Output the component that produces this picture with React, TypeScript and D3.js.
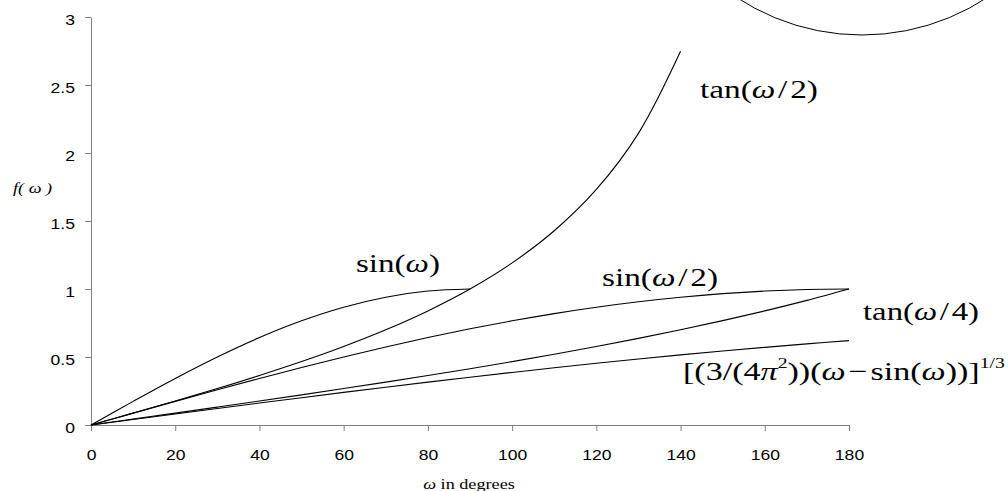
import React, { useEffect, useRef } from 'react';
import * as d3 from 'd3';

// angle samples in degrees
const omegaDeg = [0, 10, 20, 30, 40, 50, 60, 70, 80, 90, 100, 110, 120, 130, 140, 150, 160, 170, 180];

// curve values, one per sample
const sinW = [0, 0.1736, 0.342, 0.5, 0.6428, 0.766, 0.866, 0.9397, 0.9848, 1.0];
const tanHalfW = [0, 0.0875, 0.1763, 0.2679, 0.364, 0.4663, 0.5774, 0.7002, 0.8391, 1.0, 1.1918, 1.4281, 1.7321, 2.1445, 2.7475];
const sinHalfW = [0, 0.0872, 0.1737, 0.2588, 0.342, 0.4226, 0.5, 0.5736, 0.6428, 0.7071, 0.766, 0.8192, 0.866, 0.9063, 0.9397, 0.9659, 0.9848, 0.9962, 1.0];
const tanQuarterW = [0, 0.0437, 0.0875, 0.1317, 0.1763, 0.2217, 0.2679, 0.3153, 0.364, 0.4142, 0.4663, 0.5206, 0.5774, 0.6371, 0.7002, 0.7673, 0.8391, 0.9163, 1.0];
const cubeRootW = [0, 0.0407, 0.0812, 0.1215, 0.1614, 0.2009, 0.2397, 0.2778, 0.315, 0.3514, 0.3866, 0.4207, 0.4536, 0.4852, 0.5153, 0.544, 0.571, 0.5965, 0.6204];

const seriesList = [sinW, tanHalfW, sinHalfW, tanQuarterW, cubeRootW];

// tick labels
const xTicks = [0, 20, 40, 60, 80, 100, 120, 140, 160, 180];
const yTicks = [0, 0.5, 1, 1.5, 2, 2.5, 3];

type Part = { t: string; italic?: boolean; sup?: boolean };

// curve labels: pieces of text, left x, baseline y, drawn width
const curveLabels: { parts: Part[]; x: number; y: number; w: number }[] = [
  { parts: [{ t: 'tan(' }, { t: 'ω', italic: true }, { t: '\u200A/\u200A2)' }], x: 700, y: 98, w: 118 },
  { parts: [{ t: 'sin(' }, { t: 'ω', italic: true }, { t: ')' }], x: 356, y: 272, w: 84 },
  { parts: [{ t: 'sin(' }, { t: 'ω', italic: true }, { t: '\u200A/\u200A2)' }], x: 602, y: 286, w: 116 },
  { parts: [{ t: 'tan(' }, { t: 'ω', italic: true }, { t: '\u200A/\u200A4)' }], x: 863, y: 320, w: 116 },
  {
    parts: [
      { t: '[(3/(4' },
      { t: 'π', italic: true },
      { t: '2', sup: true },
      { t: '))(' },
      { t: 'ω', italic: true },
      { t: '\u200A−\u200Asin(' },
      { t: 'ω', italic: true },
      { t: '))]' },
      { t: '1/3', sup: true },
    ],
    x: 683,
    y: 380,
    w: 322,
  },
];

const App = () => {
  const ref = useRef<SVGSVGElement>(null);

  useEffect(() => {
    const svg = d3.select(ref.current);
    svg.selectAll('*').remove();

    const x = d3.scaleLinear().domain([0, 180]).range([91, 849]);
    const y = d3.scaleLinear().domain([0, 3]).range([425, 17]);
    const axisColor = '#808080';
    const tickFont = 'Liberation Sans, Arial, sans-serif';
    const stretch = 1.17;

    // x axis
    const gx = svg
      .append('g')
      .attr('transform', `translate(0, ${y(0)})`)
      .call(d3.axisBottom(x).tickValues(xTicks).tickSize(6).tickSizeOuter(0).tickPadding(18))
      .attr('font-family', tickFont)
      .attr('font-size', 15);
    gx.selectAll('path, line').attr('stroke', axisColor);
    gx.selectAll('text').attr('fill', '#000').attr('transform', `scale(${stretch},1)`);

    // y axis
    const gy = svg
      .append('g')
      .attr('transform', `translate(${x(0)}, 0)`)
      .call(d3.axisLeft(y).tickValues(yTicks).tickSize(6).tickSizeOuter(0).tickPadding(10).tickFormat(d3.format('')))
      .attr('font-family', tickFont)
      .attr('font-size', 15);
    gy.selectAll('path, line').attr('stroke', axisColor);
    gy.selectAll('text')
      .attr('fill', '#000')
      .attr('x', -16 / stretch)
      .attr('dy', '0.48em')
      .attr('transform', `scale(${stretch},1)`);

    // curves
    const line = d3
      .line<number>()
      .x((_, i) => x(omegaDeg[i]))
      .y((d) => y(d))
      .curve(d3.curveCatmullRom);

    svg
      .append('g')
      .selectAll('path')
      .data(seriesList)
      .enter()
      .append('path')
      .attr('d', (d) => line(d))
      .attr('fill', 'none')
      .attr('stroke', '#000')
      .attr('stroke-width', 1.1);

    // circle fragment at the top right
    svg
      .append('circle')
      .attr('cx', 862)
      .attr('cy', -193)
      .attr('r', 228)
      .attr('fill', 'none')
      .attr('stroke', '#000')
      .attr('stroke-width', 1);

    // curve labels
    const serif = 'Liberation Serif, Times New Roman, serif';
    curveLabels.forEach((lab) => {
      const g = svg.append('g');
      const txt = g
        .append('text')
        .attr('font-family', serif)
        .attr('font-size', 26)
        .attr('fill', '#000');
      let raised = false;
      lab.parts.forEach((p) => {
        const ts = txt.append('tspan').text(p.t);
        if (p.italic) ts.attr('font-style', 'italic');
        if (p.sup) {
          ts.attr('font-size', 15).attr('dy', raised ? 0 : -12);
          raised = true;
        } else if (raised) {
          ts.attr('dy', 12);
          raised = false;
        }
      });
      const w = (txt.node() as SVGTextElement).getBBox().width || lab.w;
      g.attr('transform', `translate(${lab.x}, ${lab.y}) scale(${lab.w / w}, 1)`);
    });

    // axis titles
    const yTitle = svg
      .append('text')
      .attr('font-family', serif)
      .attr('font-size', 14)
      .attr('font-style', 'italic')
      .attr('transform', 'translate(13, 193) scale(1.3, 1)');
    yTitle.append('tspan').text('f( ');
    yTitle.append('tspan').text('ω');
    yTitle.append('tspan').text(' )');

    const xTitle = svg
      .append('text')
      .attr('font-family', serif)
      .attr('font-size', 14)
      .attr('text-anchor', 'middle')
      .attr('transform', 'translate(469, 489) scale(1.3, 1)');
    xTitle.append('tspan').attr('font-style', 'italic').text('ω');
    xTitle.append('tspan').text(' in degrees');
  }, []);

  return (
    <svg
      ref={ref}
      width={1008}
      height={491}
      style={{ position: 'absolute', left: 0, top: 0, background: '#fff' }}
    />
  );
};

export default App;
